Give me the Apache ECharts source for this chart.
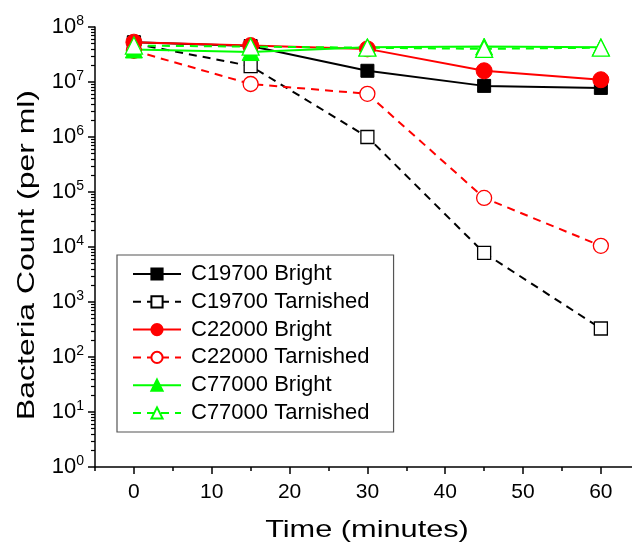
<!DOCTYPE html>
<html><head><meta charset="utf-8">
<script src="https://cdn.jsdelivr.net/npm/echarts@6/dist/echarts.min.js"></script>
<style>html,body{margin:0;padding:0;background:#fff}#c{width:632px;height:550px}</style>
</head><body><div id="c"></div>
<script>
const times = [0, 15, 30, 45, 60];
const c19700Bright = [5.3e7, 4.5e7, 1.6e7, 8.5e6, 7.8e6];
const c19700Tarnished = [5.0e7, 1.95e7, 1.0e6, 7.8e3, 3.3e2];
const c22000Bright = [5.3e7, 4.6e7, 4.0e7, 1.6e7, 1.1e7];
const c22000Tarnished = [3.7e7, 9.2e6, 6.1e6, 7.8e4, 1.05e4];
const c77000Bright = [3.9e7, 3.5e7, 4.3e7, 4.4e7, 4.3e7];
const c77000Tarnished = [4.6e7, 4.4e7, 4.2e7, 4.0e7, 4.2e7];
const xMajorTicks = [0, 10, 20, 30, 40, 50, 60];
const xMinorTicks = [-5, 5, 15, 25, 35, 45, 55];
const yDecades = [1, 1e1, 1e2, 1e3, 1e4, 1e5, 1e6, 1e7, 1e8];
const xTitle = 'Time (minutes)';
const yTitle = 'Bacteria Count (per ml)';

const yMinor = [];
for (let d = 0; d < 8; d++) for (let k = 2; k <= 9; k++) yMinor.push(k * Math.pow(10, d));

const pairs = v => times.map((t, i) => [t, v[i]]);
const font = 'Liberation Sans, Arial, sans-serif';

function mk(name, data, color, symbol, size, filled, dashed) {
  return {
    name, type: 'line', data: pairs(data), symbol, symbolSize: size,
    lineStyle: { color, width: 2, type: dashed ? [8, 6] : 'solid' },
    itemStyle: filled ? { color, borderColor: color, borderWidth: 1 } : { color: '#fff', borderColor: color, borderWidth: 1.3 },
    color, z: 2, emphasis: { disabled: true }
  };
}

const chart = echarts.init(document.getElementById('c'), null, { renderer: 'canvas' });
chart.setOption({
  animation: false,
  backgroundColor: '#fff',
  grid: { left: 95, right: 0, top: 27, bottom: 83, containLabel: false },
  legend: {
    orient: 'vertical', left: 117, top: 255,
    backgroundColor: '#fff',
    borderColor: '#555', borderWidth: 1.2, borderRadius: 0,
    padding: [8, 24, 8, 15],
    itemWidth: 48, itemHeight: 14, itemGap: 5.8,
    textStyle: { fontFamily: font, fontSize: 22, lineHeight: 22, color: '#000', padding: [0, 0, 0, 5] },
    data: ['C19700 Bright', 'C19700 Tarnished', 'C22000 Bright', 'C22000 Tarnished', 'C77000 Bright', 'C77000 Tarnished']
  },
  graphic: [
    { type: 'text', x: 367, y: 530, scaleX: 1.28, style: { text: xTitle, font: '24px ' + font, fill: '#000', align: 'center', verticalAlign: 'middle' } },
    { type: 'text', x: 27, y: 255, rotation: Math.PI / 2, scaleX: 1.33, style: { text: yTitle, font: '24px ' + font, fill: '#000', align: 'center', verticalAlign: 'middle' } }
  ],
  xAxis: [{
    type: 'value', min: -5, max: 64,
    axisLine: { onZero: false, lineStyle: { color: '#000', width: 1.5 } },
    axisTick: { customValues: xMinorTicks, length: 4, lineStyle: { color: '#000', width: 1.5 } },
    axisLabel: { customValues: xMajorTicks, fontFamily: font, fontSize: 21, color: '#000', margin: 15 },
    splitLine: { show: false }
  }, {
    type: 'value', min: -5, max: 64, position: 'bottom', gridIndex: 0,
    axisLine: { show: false, onZero: false },
    axisTick: { customValues: xMajorTicks, length: 7, lineStyle: { color: '#000', width: 1.5 } },
    axisLabel: { show: false },
    splitLine: { show: false }
  }],
  yAxis: [{
    type: 'log', logBase: 10, min: 1, max: 1e8,
    axisLine: { show: true, onZero: false, lineStyle: { color: '#000', width: 1.5 } },
    axisTick: { customValues: yDecades, length: 7, lineStyle: { color: '#000', width: 1.5 } },
    axisLabel: {
      customValues: yDecades,
      fontFamily: font, fontSize: 22, color: '#000', margin: 11,
      formatter: v => '10{s|' + Math.round(Math.log10(v)) + '}',
      rich: { s: { fontFamily: font, fontSize: 14, verticalAlign: 'top', padding: [0, 0, 12, 0] } }
    },
    splitLine: { show: false }
  }, {
    type: 'log', logBase: 10, min: 1, max: 1e8, position: 'left', gridIndex: 0,
    axisLine: { show: false, onZero: false },
    axisTick: { customValues: yMinor, length: 4, lineStyle: { color: '#000', width: 1.2 } },
    axisLabel: { show: false },
    splitLine: { show: false }
  }],
  series: [
    mk('C19700 Bright', c19700Bright, '#000000', 'rect', 13, true, false),
    mk('C19700 Tarnished', c19700Tarnished, '#000000', 'rect', 13, false, true),
    mk('C22000 Bright', c22000Bright, '#ff0000', 'circle', 16, true, false),
    mk('C22000 Tarnished', c22000Tarnished, '#ff0000', 'circle', 15, false, true),
    mk('C77000 Bright', c77000Bright, '#00ff00', 'triangle', 17, true, false),
    mk('C77000 Tarnished', c77000Tarnished, '#00ff00', 'triangle', 17, false, true)
  ]
});
</script></body></html>
